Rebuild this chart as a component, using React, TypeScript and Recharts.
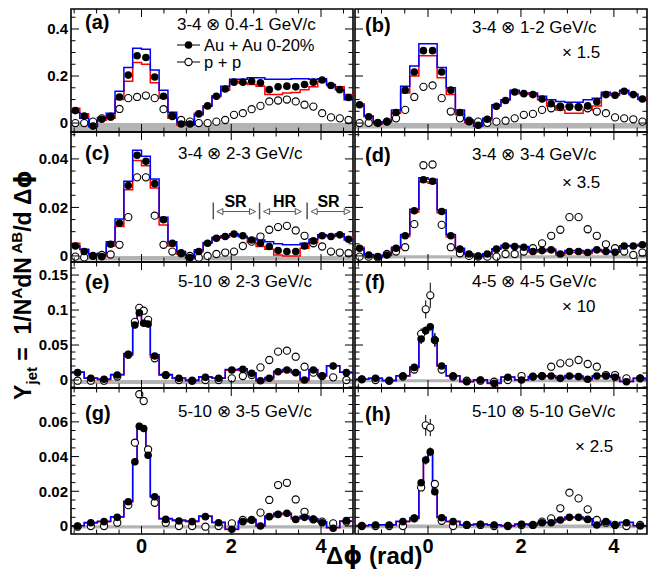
import React from 'react';
import { ComposedChart, Line, Scatter, XAxis, YAxis, ReferenceArea, ReferenceLine, ReferenceDot, ErrorBar } from 'recharts';

const FONT = '"Liberation Sans", Arial, Helvetica, sans-serif';
const GREEK = '"DejaVu Sans", "Liberation Sans", sans-serif';
const PI = Math.PI;
const X_DOMAIN: [number, number] = [-PI / 2, (3 * PI) / 2];

// bin edges in units of pi/32
const uniformEdges = [-16, -14, -12, -10, -8, -6, -4, -2, 0, 2, 4, 6, 8, 10, 12, 14, 16, 18, 20, 22, 24, 26, 28, 30, 32, 34, 36, 38, 40, 42, 44, 46, 48];
const variableEdges = [-16, -13, -10, -7, -4, -2, -1, 0, 1, 2, 4, 7, 10, 13, 16, 19, 22, 24, 26, 28, 30, 32, 34, 36, 38, 40, 42, 45, 48];

// tick values
const xMajorTicks = [0, 2, 4];
const xMinorTicks = [-1.5, -1, -0.5, 0.5, 1, 1.5, 2.5, 3, 3.5, 4.5];
const yMajor1 = [0, 0.2, 0.4];
const yMinor1 = [0.05, 0.1, 0.15, 0.25, 0.3, 0.35, 0.45];
const yMajor2 = [0, 0.02, 0.04];
const yMinor2 = [0.005, 0.01, 0.015, 0.025, 0.03, 0.035, 0.045, 0.05];
const yMajor3 = [0, 0.05, 0.1, 0.15];
const yMinor3 = [-0.01, 0.01, 0.02, 0.03, 0.04, 0.06, 0.07, 0.08, 0.09, 0.11, 0.12, 0.13, 0.14, 0.16];
const yMajor4 = [0, 0.02, 0.04, 0.06];
const yMinor4 = [0.005, 0.01, 0.015, 0.025, 0.03, 0.035, 0.045, 0.05, 0.055, 0.065, 0.07, 0.075];

// ---------- panel (a) 3-4 x 0.4-1 ----------
const aAuAu = [0.053, 0.030, -0.013, 0.016, 0.027, 0.111, 0.204, 0.286, 0.279, 0.196, 0.114, 0.030, -0.004, -0.004, 0.039, 0.073, 0.114, 0.145, 0.174, 0.174, 0.178, 0.171, 0.142, 0.154, 0.157, 0.154, 0.164, 0.174, 0.183, 0.160, 0.142, 0.109];
const aBlue = [0.045, 0.020, -0.016, 0.024, 0.042, 0.135, 0.236, 0.318, 0.314, 0.226, 0.140, 0.046, 0.004, -0.008, 0.035, 0.072, 0.116, 0.157, 0.186, 0.186, 0.193, 0.193, 0.186, 0.186, 0.186, 0.188, 0.188, 0.186, 0.188, 0.164, 0.142, 0.099];
const aRed = [0.063, 0.040, -0.010, 0.012, 0.020, 0.100, 0.178, 0.258, 0.250, 0.171, 0.106, 0.020, -0.008, 0.000, 0.042, 0.074, 0.112, 0.140, 0.178, 0.170, 0.164, 0.157, 0.121, 0.121, 0.128, 0.130, 0.142, 0.154, 0.178, 0.160, 0.154, 0.121];
const aPP = [0.000, 0.000, 0.006, 0.020, 0.027, 0.060, 0.106, 0.111, 0.117, 0.106, 0.059, 0.030, 0.013, 0.006, 0.000, 0.000, 0.006, 0.013, 0.035, 0.042, 0.059, 0.073, 0.092, 0.096, 0.100, 0.092, 0.078, 0.070, 0.042, 0.024, 0.020, 0.013];
const aBand = [-0.038, 0];

// ---------- panel (b) 3-4 x 1-2 (x1.5) ----------
const bAuAu = [0.078, 0.027, 0.000, 0.006, 0.045, 0.140, 0.217, 0.308, 0.308, 0.217, 0.140, 0.045, 0.006, -0.009, 0.016, 0.071, 0.096, 0.132, 0.125, 0.121, 0.102, 0.082, 0.071, 0.068, 0.068, 0.073, 0.091, 0.121, 0.118, 0.135, 0.121, 0.102];
const bBlue = [0.076, 0.030, 0.001, 0.006, 0.056, 0.157, 0.243, 0.337, 0.337, 0.236, 0.150, 0.056, 0.013, -0.013, 0.020, 0.078, 0.099, 0.140, 0.128, 0.128, 0.114, 0.099, 0.092, 0.088, 0.088, 0.099, 0.106, 0.131, 0.125, 0.140, 0.124, 0.100];
const bRed = [0.082, 0.027, -0.004, 0.006, 0.042, 0.128, 0.200, 0.286, 0.286, 0.193, 0.121, 0.035, 0.001, -0.013, 0.013, 0.071, 0.099, 0.135, 0.124, 0.121, 0.099, 0.073, 0.056, 0.042, 0.042, 0.056, 0.073, 0.121, 0.117, 0.135, 0.120, 0.106];
const bPP = [0.000, 0.001, 0.001, 0.006, 0.020, 0.056, 0.111, 0.154, 0.160, 0.106, 0.049, 0.020, 0.010, 0.006, 0.001, 0.006, 0.010, 0.020, 0.035, 0.039, 0.056, 0.063, 0.068, 0.071, 0.068, 0.063, 0.049, 0.042, 0.024, 0.020, 0.016, 0.006];
const bBand = [-0.023, 0];

// ---------- panel (c) 3-4 x 2-3 ----------
const cAuAu = [0.0041, 0.0018, 0.0000, -0.0003, 0.0048, 0.0135, 0.0290, 0.0415, 0.0390, 0.0298, 0.0149, 0.0052, 0.0011, -0.0007, 0.0018, 0.0052, 0.0073, 0.0080, 0.0090, 0.0083, 0.0066, 0.0052, 0.0039, 0.0022, 0.0018, 0.0018, 0.0041, 0.0062, 0.0083, 0.0080, 0.0087, 0.0069];
const cBlue = [0.0041, 0.0028, 0.0008, 0.0011, 0.0059, 0.0152, 0.0308, 0.0436, 0.0411, 0.0317, 0.0160, 0.0059, 0.0018, -0.0007, 0.0025, 0.0055, 0.0077, 0.0083, 0.0091, 0.0080, 0.0073, 0.0066, 0.0059, 0.0050, 0.0046, 0.0046, 0.0052, 0.0069, 0.0087, 0.0083, 0.0091, 0.0066];
const cRed = [0.0052, 0.0025, 0.0004, 0.0000, 0.0041, 0.0121, 0.0273, 0.0394, 0.0372, 0.0280, 0.0128, 0.0041, 0.0008, -0.0010, 0.0018, 0.0052, 0.0073, 0.0077, 0.0087, 0.0080, 0.0055, 0.0039, 0.0028, 0.0004, 0.0000, 0.0000, 0.0032, 0.0055, 0.0080, 0.0080, 0.0087, 0.0077];
const cPP = [-0.0003, -0.0006, 0.0000, 0.0004, 0.0006, 0.0046, 0.0160, 0.0324, 0.0324, 0.0166, 0.0046, 0.0018, 0.0011, 0.0000, -0.0007, 0.0000, 0.0008, 0.0014, 0.0018, 0.0041, 0.0059, 0.0080, 0.0108, 0.0119, 0.0124, 0.0105, 0.0083, 0.0052, 0.0039, 0.0018, 0.0014, 0.0011];
const cBand = [-0.0019, 0];

// ---------- panel (d) 3-4 x 3-4 (x3.5) ----------
const dAuAu = [0.0032, 0.0004, -0.0003, 0.0004, 0.0032, 0.0083, 0.0186, 0.0314, 0.0308, 0.0183, 0.0083, 0.0028, 0.0008, 0.0000, 0.0008, 0.0028, 0.0041, 0.0039, 0.0036, 0.0018, 0.0022, 0.0025, 0.0008, 0.0018, 0.0018, 0.0014, 0.0025, 0.0018, 0.0015, 0.0041, 0.0041, 0.0046];
const dBlue = [0.0030, 0.0006, -0.0004, 0.0004, 0.0036, 0.0088, 0.0192, 0.0322, 0.0316, 0.0189, 0.0088, 0.0032, 0.0009, -0.0001, 0.0009, 0.0030, 0.0044, 0.0041, 0.0039, 0.0022, 0.0025, 0.0028, 0.0012, 0.0022, 0.0022, 0.0018, 0.0027, 0.0020, 0.0016, 0.0042, 0.0041, 0.0044];
const dRed = [0.0036, 0.0004, -0.0006, 0.0002, 0.0030, 0.0080, 0.0181, 0.0306, 0.0300, 0.0178, 0.0079, 0.0024, 0.0006, -0.0002, 0.0008, 0.0028, 0.0040, 0.0038, 0.0035, 0.0016, 0.0018, 0.0021, 0.0004, 0.0014, 0.0014, 0.0010, 0.0022, 0.0016, 0.0015, 0.0042, 0.0042, 0.0048];
const dPP = [-0.0003, -0.0003, -0.0006, 0.0008, 0.0018, 0.0036, 0.0131, 0.0374, 0.0377, 0.0128, 0.0036, 0.0011, 0.0000, -0.0003, -0.0003, -0.0003, 0.0008, 0.0008, 0.0018, 0.0032, 0.0052, 0.0083, 0.0108, 0.0160, 0.0160, 0.0110, 0.0083, 0.0048, 0.0032, 0.0018, 0.0004, 0.0014];
const dBand = [-0.0011, 0.0003];

// ---------- panel (e) 5-10 x 2-3 ----------
const eAuAu = [0.0105, 0.0024, 0.0010, 0.0071, 0.0367, 0.0786, 0.0962, 0.0810, 0.0800, 0.0343, 0.0071, 0.0024, -0.0010, 0.0038, 0.0024, 0.0143, 0.0152, 0.0095, -0.0010, 0.0024, 0.0119, 0.0143, 0.0105, 0.0000, 0.0143, 0.0057, 0.0200, 0.0105];
const eAuAuErr = [0.005, 0.004, 0.004, 0.004, 0.004, 0.005, 0.005, 0.005, 0.005, 0.004, 0.003, 0.003, 0.003, 0.005, 0.004, 0.004, 0.004, 0.004, 0.004, 0.004, 0.004, 0.004, 0.004, 0.004, 0.004, 0.004, 0.005, 0.005];
const eBlue = [0.0110, 0.0030, 0.0015, 0.0078, 0.0380, 0.0800, 0.0990, 0.0830, 0.0820, 0.0360, 0.0078, 0.0030, 0.0000, 0.0045, 0.0030, 0.0150, 0.0160, 0.0105, 0.0000, 0.0035, 0.0127, 0.0150, 0.0115, 0.0010, 0.0150, 0.0065, 0.0205, 0.0110];
const eRed = [0.0115, 0.0024, 0.0005, 0.0070, 0.0355, 0.0770, 0.0940, 0.0790, 0.0785, 0.0330, 0.0068, 0.0020, -0.0015, 0.0038, 0.0024, 0.0140, 0.0145, 0.0090, -0.0020, 0.0015, 0.0110, 0.0135, 0.0098, -0.0010, 0.0138, 0.0055, 0.0203, 0.0112];
const ePP = [-0.0010, -0.0010, -0.0010, 0.0050, 0.0360, 0.0830, 0.1030, 0.0990, 0.0860, 0.0310, 0.0070, 0.0000, -0.0010, 0.0000, 0.0000, 0.0024, 0.0057, 0.0071, 0.0180, 0.0286, 0.0405, 0.0419, 0.0333, 0.0190, 0.0105, 0.0057, 0.0038, 0.0000];
const ePPErr = [0.002, 0.002, 0.002, 0.002, 0.003, 0.004, 0.004, 0.004, 0.004, 0.003, 0.002, 0.002, 0.002, 0.002, 0.002, 0.002, 0.002, 0.002, 0.002, 0.002, 0.002, 0.002, 0.002, 0.002, 0.002, 0.002, 0.002, 0.002];
const eBand = [-0.0057, 0];

// ---------- panel (f) 4-5 x 4-5 (x10) ----------
const fAuAu = [0.0010, 0.0024, -0.0010, 0.0057, 0.0180, 0.0586, 0.0705, 0.0762, 0.0571, 0.0200, 0.0057, -0.0024, 0.0000, -0.0048, 0.0038, 0.0000, 0.0048, 0.0057, 0.0057, 0.0024, 0.0057, 0.0048, 0.0010, 0.0057, 0.0057, 0.0038, -0.0024, 0.0024];
const fAuAuErr = [0.003, 0.003, 0.003, 0.003, 0.004, 0.007, 0.006, 0.005, 0.010, 0.004, 0.003, 0.003, 0.003, 0.003, 0.003, 0.003, 0.003, 0.003, 0.003, 0.003, 0.003, 0.003, 0.003, 0.003, 0.003, 0.003, 0.003, 0.003];
const fBlue = [0.0012, 0.0026, -0.0008, 0.0060, 0.0185, 0.0600, 0.0720, 0.0780, 0.0585, 0.0205, 0.0060, -0.0020, 0.0004, -0.0044, 0.0042, 0.0004, 0.0052, 0.0062, 0.0062, 0.0030, 0.0064, 0.0056, 0.0018, 0.0062, 0.0060, 0.0040, -0.0022, 0.0026];
const fRed = [0.0012, 0.0024, -0.0010, 0.0056, 0.0177, 0.0578, 0.0695, 0.0750, 0.0562, 0.0196, 0.0056, -0.0024, -0.0002, -0.0048, 0.0038, 0.0000, 0.0046, 0.0054, 0.0052, 0.0018, 0.0050, 0.0040, 0.0004, 0.0052, 0.0054, 0.0036, -0.0022, 0.0026];
const fPP = [0.0010, 0.0000, -0.0010, 0.0050, 0.0150, 0.0660, 0.1010, 0.1210, 0.0570, 0.0150, 0.0050, -0.0010, -0.0010, -0.0024, 0.0000, 0.0057, 0.0048, 0.0057, 0.0190, 0.0238, 0.0248, 0.0286, 0.0229, 0.0190, 0.0071, 0.0071, 0.0024, 0.0024];
const fPPErr = [0.002, 0.002, 0.002, 0.002, 0.003, 0.008, 0.013, 0.018, 0.008, 0.003, 0.002, 0.002, 0.002, 0.002, 0.002, 0.002, 0.002, 0.002, 0.003, 0.003, 0.003, 0.003, 0.003, 0.003, 0.002, 0.002, 0.002, 0.002];
const fBand = [-0.0032, 0.0012];

// ---------- panel (g) 5-10 x 3-5 ----------
const gAuAu = [0.0000, 0.0019, 0.0025, 0.0050, 0.0140, 0.0370, 0.0575, 0.0562, 0.0408, 0.0169, 0.0038, 0.0029, 0.0025, 0.0054, 0.0019, -0.0019, 0.0025, 0.0035, 0.0000, 0.0054, 0.0067, 0.0073, 0.0038, 0.0050, 0.0038, 0.0019, -0.0013, 0.0031];
const gAuAuErr = [0.0015, 0.0012, 0.0012, 0.0012, 0.0015, 0.0020, 0.0020, 0.0020, 0.0020, 0.0015, 0.0010, 0.0010, 0.0012, 0.0015, 0.0012, 0.0012, 0.0012, 0.0012, 0.0012, 0.0012, 0.0012, 0.0012, 0.0012, 0.0012, 0.0012, 0.0012, 0.0012, 0.0015];
const gBlue = [0.0002, 0.0020, 0.0027, 0.0054, 0.0142, 0.0376, 0.0580, 0.0567, 0.0412, 0.0170, 0.0044, 0.0035, 0.0029, 0.0058, 0.0021, -0.0019, 0.0029, 0.0038, 0.0002, 0.0058, 0.0073, 0.0073, 0.0048, 0.0058, 0.0044, 0.0025, -0.0008, 0.0027];
const gRed = [0.0002, 0.0018, 0.0025, 0.0052, 0.0138, 0.0370, 0.0570, 0.0557, 0.0405, 0.0166, 0.0040, 0.0031, 0.0025, 0.0055, 0.0019, -0.0020, 0.0025, 0.0033, -0.0002, 0.0052, 0.0067, 0.0068, 0.0040, 0.0052, 0.0040, 0.0022, -0.0010, 0.0029];
const gPP = [-0.0004, 0.0000, 0.0000, 0.0019, 0.0120, 0.0480, 0.0759, 0.0720, 0.0441, 0.0134, 0.0019, 0.0000, 0.0000, -0.0004, 0.0000, 0.0015, 0.0035, 0.0035, 0.0077, 0.0150, 0.0236, 0.0249, 0.0153, 0.0082, 0.0038, 0.0025, 0.0015, 0.0025];
const gPPErr = [0.001, 0.001, 0.001, 0.001, 0.001, 0.002, 0.002, 0.002, 0.002, 0.001, 0.001, 0.001, 0.001, 0.001, 0.001, 0.001, 0.001, 0.001, 0.001, 0.001, 0.0012, 0.0012, 0.001, 0.001, 0.001, 0.001, 0.001, 0.001];
const gBand = [-0.0015, 0.0005];

// ---------- panel (h) 5-10 x 5-10 (x2.5) ----------
const hAuAu = [0.0000, 0.0006, 0.0006, 0.0025, 0.0044, 0.0249, 0.0380, 0.0427, 0.0197, 0.0048, 0.0025, 0.0006, 0.0010, 0.0006, 0.0000, 0.0010, 0.0006, 0.0019, 0.0019, 0.0035, 0.0050, 0.0050, 0.0038, 0.0006, 0.0025, 0.0006, 0.0019, 0.0000];
const hAuAuErr = [0.001, 0.001, 0.001, 0.001, 0.001, 0.002, 0.0025, 0.0025, 0.002, 0.001, 0.001, 0.001, 0.001, 0.001, 0.001, 0.001, 0.001, 0.001, 0.001, 0.001, 0.001, 0.001, 0.001, 0.001, 0.001, 0.001, 0.001, 0.001];
const hBlue = [0.0002, 0.0008, 0.0008, 0.0027, 0.0046, 0.0252, 0.0385, 0.0432, 0.0200, 0.0050, 0.0027, 0.0008, 0.0012, 0.0008, 0.0002, 0.0012, 0.0008, 0.0021, 0.0021, 0.0037, 0.0052, 0.0052, 0.0042, 0.0008, 0.0027, 0.0008, 0.0021, 0.0002];
const hRed = [0.0001, 0.0006, 0.0006, 0.0024, 0.0043, 0.0246, 0.0376, 0.0422, 0.0195, 0.0047, 0.0024, 0.0006, 0.0009, 0.0005, 0.0000, 0.0009, 0.0005, 0.0018, 0.0017, 0.0033, 0.0047, 0.0047, 0.0036, 0.0005, 0.0024, 0.0006, 0.0019, 0.0001];
const hPP = [0.0000, 0.0000, 0.0000, 0.0000, 0.0044, 0.0222, 0.0580, 0.0567, 0.0242, 0.0030, 0.0000, 0.0006, 0.0006, 0.0000, 0.0000, 0.0006, 0.0006, 0.0025, 0.0044, 0.0102, 0.0192, 0.0159, 0.0096, 0.0035, 0.0019, 0.0006, 0.0000, 0.0006];
const hPPErr = [0.001, 0.001, 0.001, 0.001, 0.001, 0.002, 0.006, 0.005, 0.002, 0.001, 0.001, 0.001, 0.001, 0.001, 0.001, 0.001, 0.001, 0.001, 0.001, 0.001, 0.0012, 0.0012, 0.001, 0.001, 0.001, 0.001, 0.001, 0.001];
const hBand = [-0.0013, 0.0009];

// SR / HR annotation in panel (c)
const regionBars = [1.6, 2.63, 3.69];
const regionBarY = [0.0151, 0.022];
const regionArrows = [
  { from: 1.68, to: 2.54 },
  { from: 2.72, to: 3.56 },
  { from: 3.78, to: 4.65 },
];
const regionArrowY = 0.0183;

// ---------- layout ----------
const PAD = 2;
const COLS = [
  { x: 71, w: 282 },
  { x: 355, w: 292 },
];
const ROWS = [
  { y: 9, h: 123, domain: [-0.038, 0.485], major: yMajor1, minor: yMinor1 },
  { y: 132, h: 130, domain: [-0.0025, 0.0511], major: yMajor2, minor: yMinor2 },
  { y: 262, h: 126, domain: [-0.0114, 0.1686], major: yMajor3, minor: yMinor3 },
  { y: 388, h: 146, domain: [-0.0046, 0.0795], major: yMajor4, minor: yMinor4 },
];

type PanelDef = {
  key: string; col: number; row: number; edges: number[];
  auau: number[]; auauErr?: number[]; blue: number[]; red: number[];
  pp: number[]; ppErr?: number[]; band: number[]; arrows?: boolean;
};

const PANELS: PanelDef[] = [
  { key: 'a', col: 0, row: 0, edges: uniformEdges, auau: aAuAu, blue: aBlue, red: aRed, pp: aPP, band: aBand },
  { key: 'b', col: 1, row: 0, edges: uniformEdges, auau: bAuAu, blue: bBlue, red: bRed, pp: bPP, band: bBand },
  { key: 'c', col: 0, row: 1, edges: uniformEdges, auau: cAuAu, blue: cBlue, red: cRed, pp: cPP, band: cBand, arrows: true },
  { key: 'd', col: 1, row: 1, edges: uniformEdges, auau: dAuAu, blue: dBlue, red: dRed, pp: dPP, band: dBand },
  { key: 'e', col: 0, row: 2, edges: variableEdges, auau: eAuAu, auauErr: eAuAuErr, blue: eBlue, red: eRed, pp: ePP, ppErr: ePPErr, band: eBand },
  { key: 'f', col: 1, row: 2, edges: variableEdges, auau: fAuAu, auauErr: fAuAuErr, blue: fBlue, red: fRed, pp: fPP, ppErr: fPPErr, band: fBand },
  { key: 'g', col: 0, row: 3, edges: variableEdges, auau: gAuAu, auauErr: gAuAuErr, blue: gBlue, red: gRed, pp: gPP, ppErr: gPPErr, band: gBand },
  { key: 'h', col: 1, row: 3, edges: variableEdges, auau: hAuAu, auauErr: hAuAuErr, blue: hBlue, red: hRed, pp: hPP, ppErr: hPPErr, band: hBand },
];

const makeTick = (side: string, majors: number[], showLabel: boolean) => (props: any) => {
  const { x, y, payload } = props;
  const v = payload.value;
  const major = majors.some((m) => Math.abs(m - v) < 1e-9);
  const L = major ? 8 : 4.5;
  let c = [x, y, x, y];
  if (side === 'left') c = [x, y, x + L, y];
  else if (side === 'right') c = [x, y, x - L, y];
  else if (side === 'top') c = [x, y, x, y + L];
  else c = [x, y, x, y - L];
  return (
    <g>
      <line x1={c[0]} y1={c[1]} x2={c[2]} y2={c[3]} stroke="#000" strokeWidth={1} />
      {showLabel && major && side === 'left' && (
        <text x={x - 3} y={y} dy="0.36em" textAnchor="end" fontSize={15} fontWeight="bold" fontFamily={FONT} fill="#000">
          {String(v)}
        </text>
      )}
      {showLabel && major && side === 'bottom' && (
        <text x={x} y={y + 19} textAnchor="middle" fontSize={20} fontWeight="bold" fontFamily={FONT} fill="#000">
          {String(v)}
        </text>
      )}
    </g>
  );
};

const filledDot = (p: any) => <circle cx={p.cx} cy={p.cy} r={3.8} fill="#000" />;
const openDot = (p: any) => <circle cx={p.cx} cy={p.cy} r={3.6} fill="#fff" stroke="#000" strokeWidth={1.1} />;
const arrowHead = (dir: string) => (p: any) => {
  const { cx, cy } = p;
  const L = 6, H = 3;
  const d = dir === 'right'
    ? `M${cx},${cy} L${cx - L},${cy - H} L${cx - L},${cy + H} Z`
    : `M${cx},${cy} L${cx + L},${cy - H} L${cx + L},${cy + H} Z`;
  return <path d={d} fill="#fff" stroke="#555" strokeWidth={1} />;
};

function Panel({ p }: { p: PanelDef }) {
  const col = COLS[p.col];
  const row = ROWS[p.row];
  const leftCol = p.col === 0;
  const bottomRow = p.row === 3;
  const yW = leftCol ? 64 : 0;
  const xH = bottomRow ? 30 : 0;
  const width = yW + col.w + 2 * PAD;
  const height = row.h + xH + 2 * PAD;
  const edges = p.edges.map((e) => (e * PI) / 32);
  const centers = edges.slice(0, -1).map((e, i) => (e + edges[i + 1]) / 2);
  const hist = (vals: number[]) => [
    ...vals.map((v, i) => ({ x: edges[i], y: v })),
    { x: edges[edges.length - 1], y: vals[vals.length - 1] },
  ];
  const auau = p.auau.map((v, i) => ({ x: centers[i], y: v, e: p.auauErr ? p.auauErr[i] : 0 }));
  const pp = p.pp.map((v, i) => ({ x: centers[i], y: v, e: p.ppErr ? p.ppErr[i] : 0 }));
  const xTicks = [...xMinorTicks, ...xMajorTicks].sort((a, b) => a - b);
  const yTicks = [...row.minor, ...row.major].sort((a, b) => a - b);
  const dom = row.domain as [number, number];
  return (
    <div style={{ position: 'absolute', left: col.x - yW - PAD, top: row.y - PAD }}>
      <ComposedChart width={width} height={height} margin={{ top: PAD, right: PAD, bottom: PAD, left: PAD }}>
        <XAxis xAxisId="x" dataKey="x" type="number" domain={X_DOMAIN} allowDataOverflow ticks={xTicks} interval={0}
          orientation="bottom" mirror={!bottomRow} height={bottomRow ? xH : 10} axisLine={false} tickLine={false}
          tickSize={0} tickMargin={0} tick={makeTick('bottom', xMajorTicks, bottomRow)} />
        <XAxis xAxisId="xt" dataKey="x" type="number" domain={X_DOMAIN} allowDataOverflow ticks={xTicks} interval={0}
          orientation="top" mirror height={10} axisLine={false} tickLine={false}
          tickSize={0} tickMargin={0} tick={makeTick('top', xMajorTicks, false)} />
        <YAxis yAxisId="y" dataKey="y" type="number" domain={dom} allowDataOverflow ticks={yTicks} interval={0}
          orientation="left" mirror={!leftCol} width={leftCol ? yW : 10} axisLine={false} tickLine={false}
          tickSize={0} tickMargin={0} tick={makeTick('left', row.major, leftCol)} />
        <YAxis yAxisId="yr" dataKey="y" type="number" domain={dom} allowDataOverflow ticks={yTicks} interval={0}
          orientation="right" mirror width={10} axisLine={false} tickLine={false}
          tickSize={0} tickMargin={0} tick={makeTick('right', row.major, false)} />
        <ReferenceArea xAxisId="x" yAxisId="y" x1={X_DOMAIN[0]} x2={X_DOMAIN[1]} y1={p.band[0]} y2={p.band[1]}
          fill="#b4b4b4" fillOpacity={1} stroke="none" ifOverflow="hidden" />
        {p.arrows && regionBars.map((bx, i) => (
          <ReferenceLine key={'bar' + i} xAxisId="x" yAxisId="y"
            segment={[{ x: bx, y: regionBarY[0] }, { x: bx, y: regionBarY[1] }]} stroke="#555" strokeWidth={1.5} />
        ))}
        {p.arrows && regionArrows.map((a, i) => (
          <ReferenceLine key={'arr' + i} xAxisId="x" yAxisId="y"
            segment={[{ x: a.from, y: regionArrowY }, { x: a.to, y: regionArrowY }]} stroke="#555" strokeWidth={1} />
        ))}
        {p.arrows && regionArrows.map((a, i) => (
          <ReferenceDot key={'hl' + i} xAxisId="x" yAxisId="y" x={a.from} y={regionArrowY} r={3} shape={arrowHead('left')} />
        ))}
        {p.arrows && regionArrows.map((a, i) => (
          <ReferenceDot key={'hr' + i} xAxisId="x" yAxisId="y" x={a.to} y={regionArrowY} r={3} shape={arrowHead('right')} />
        ))}
        <Scatter xAxisId="x" yAxisId="y" data={pp} dataKey="y" shape={openDot} isAnimationActive={false}>
          {p.ppErr && <ErrorBar dataKey="e" direction="y" width={0} stroke="#000" strokeWidth={1} />}
        </Scatter>
        <Line xAxisId="x" yAxisId="y" data={hist(p.red)} dataKey="y" type="stepAfter" stroke="#ff0000"
          strokeWidth={1.5} dot={false} activeDot={false} isAnimationActive={false} />
        <Line xAxisId="x" yAxisId="y" data={hist(p.blue)} dataKey="y" type="stepAfter" stroke="#0000ff"
          strokeWidth={1.5} dot={false} activeDot={false} isAnimationActive={false} />
        <Scatter xAxisId="x" yAxisId="y" data={auau} dataKey="y" shape={filledDot} isAnimationActive={false}>
          {p.auauErr && <ErrorBar dataKey="e" direction="y" width={0} stroke="#000" strokeWidth={1.2} />}
        </Scatter>
        <ReferenceArea xAxisId="x" yAxisId="y" x1={X_DOMAIN[0]} x2={X_DOMAIN[1]} y1={dom[0]} y2={dom[1]}
          fill="none" fillOpacity={0} stroke="#000" strokeWidth={1.6} ifOverflow="visible" />
      </ComposedChart>
    </div>
  );
}

const Txt = ({ x, y, size, bold, anchor = 'start', children }: any) => (
  <div
    style={{
      position: 'absolute', left: x, top: y,
      transform: `translate(${anchor === 'start' ? 0 : anchor === 'middle' ? -50 : -100}%, -50%)`,
      fontSize: size, fontWeight: bold ? 'bold' : 'normal', lineHeight: 0.9, whiteSpace: 'nowrap',
      fontFamily: FONT, color: '#000',
    }}
  >
    {children}
  </div>
);

const Phi = () => <span style={{ fontFamily: GREEK }}>ϕ</span>;

export default function App() {
  return (
    <div style={{ position: 'absolute', left: 0, top: 0, width: 652, height: 569, background: '#fff', overflow: 'hidden', fontFamily: FONT }}>
      {PANELS.map((p) => (
        <Panel key={p.key} p={p} />
      ))}

      {/* panel letters */}
      <Txt x={85} y={22} size={20} bold>(a)</Txt>
      <Txt x={365} y={25} size={20} bold>(b)</Txt>
      <Txt x={85} y={153} size={20} bold>(c)</Txt>
      <Txt x={365} y={155} size={20} bold>(d)</Txt>
      <Txt x={85} y={282} size={20} bold>(e)</Txt>
      <Txt x={365} y={282} size={20} bold>(f)</Txt>
      <Txt x={85} y={413} size={20} bold>(g)</Txt>
      <Txt x={365} y={414} size={20} bold>(h)</Txt>

      {/* panel titles */}
      <Txt x={177} y={25} size={17}>3-4 ⊗ 0.4-1 GeV/c</Txt>
      <Txt x={472} y={28} size={17}>3-4 ⊗ 1-2 GeV/c</Txt>
      <Txt x={178} y={154} size={17}>3-4 ⊗ 2-3 GeV/c</Txt>
      <Txt x={472} y={155} size={17}>3-4 ⊗ 3-4 GeV/c</Txt>
      <Txt x={178} y={282} size={17}>5-10 ⊗ 2-3 GeV/c</Txt>
      <Txt x={472} y={282} size={17}>4-5 ⊗ 4-5 GeV/c</Txt>
      <Txt x={178} y={412} size={17}>5-10 ⊗ 3-5 GeV/c</Txt>
      <Txt x={472} y={412} size={17}>5-10 ⊗ 5-10 GeV/c</Txt>

      {/* scale factors */}
      <Txt x={562} y={53} size={17}>× 1.5</Txt>
      <Txt x={562} y={183} size={17}>× 3.5</Txt>
      <Txt x={562} y={307} size={17}>× 10</Txt>
      <Txt x={575} y={447} size={17}>× 2.5</Txt>

      {/* legend */}
      <svg style={{ position: 'absolute', left: 172, top: 35 }} width={32} height={36}>
        <line x1={5} y1={10} x2={28} y2={10} stroke="#000" strokeWidth={1} />
        <circle cx={16.5} cy={10} r={3.8} fill="#000" />
        <line x1={5} y1={27} x2={28} y2={27} stroke="#000" strokeWidth={1} />
        <circle cx={16.5} cy={27} r={3.6} fill="#fff" stroke="#000" strokeWidth={1.1} />
      </svg>
      <Txt x={204} y={45} size={16.5}>Au + Au 0-20%</Txt>
      <Txt x={204} y={62} size={16.5}>p + p</Txt>

      {/* SR / HR */}
      <Txt x={235.5} y={202} size={16} bold anchor="middle">SR</Txt>
      <Txt x={284.5} y={202} size={16} bold anchor="middle">HR</Txt>
      <Txt x={328.5} y={202} size={16} bold anchor="middle">SR</Txt>

      {/* axis titles */}
      <div
        style={{
          position: 'absolute', left: 24, top: 285, transform: 'translate(-50%, -50%) rotate(-90deg)',
          fontSize: 23, fontWeight: 'bold', whiteSpace: 'nowrap', fontFamily: FONT, lineHeight: 1,
        }}
      >
        Y<sub style={{ fontSize: 15 }}>jet</sub> = &nbsp;1/N<sup style={{ fontSize: 15 }}>A</sup>dN<sup style={{ fontSize: 15 }}> AB</sup>/d Δ<Phi />
      </div>
      <Txt x={326} y={556} size={24} bold>Δ<Phi /> (rad)</Txt>
    </div>
  );
}
